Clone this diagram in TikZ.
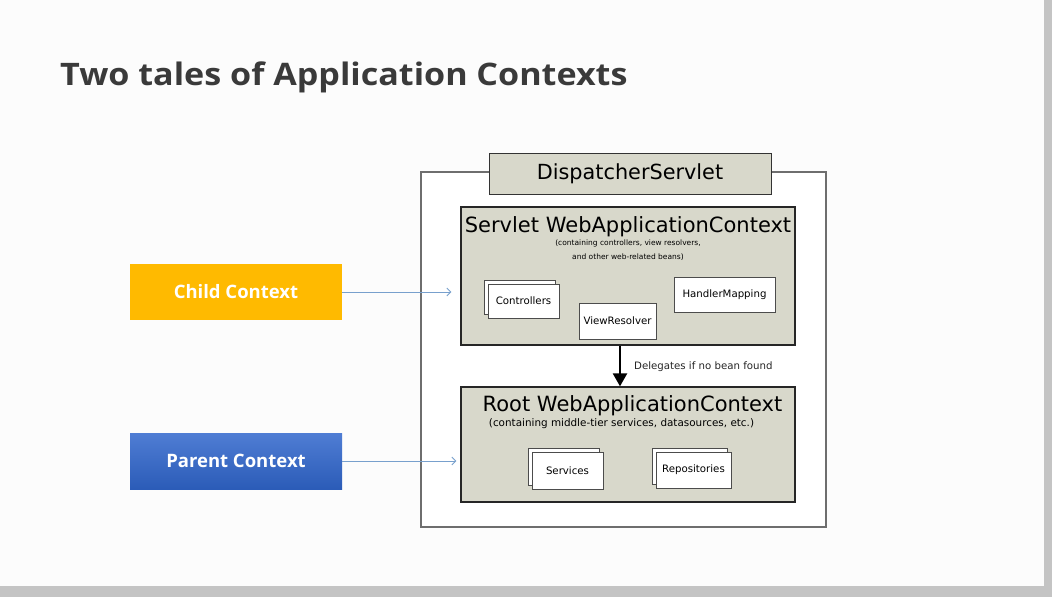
\documentclass[tikz,border=0pt]{standalone}
\usepackage{fontspec}
\usetikzlibrary{arrows.meta,shadows}
\newfontfamily\djv{DejaVu Sans}
\newfontfamily\opsans{Open Sans}
\newfontfamily\opsanswide[FakeStretch=1.1]{Open Sans}
\definecolor{beige}{RGB}{216,216,203}
\definecolor{framegray}{RGB}{110,110,110}
\definecolor{titlegray}{RGB}{58,58,58}
\definecolor{childorange}{RGB}{255,186,0}
\definecolor{parentblue}{RGB}{48,102,204}
\definecolor{linkblue}{RGB}{120,160,205}
\definecolor{bandgray}{RGB}{196,196,196}
\tikzset{
  ctxbox/.style={draw=black!85, line width=1.3pt, fill=beige, inner sep=0pt},
  headbox/.style={draw=black!80, line width=1pt, fill=beige, inner sep=0pt, font=\djv\fontsize{20.8}{22}\selectfont},
  beanbox/.style={draw=black!70, line width=0.8pt, fill=white, inner sep=0pt, font=\djv\fontsize{10.2}{12}\selectfont},
  stackbox/.style={beanbox, copy shadow={shadow xshift=-4pt, shadow yshift=4pt, draw=black!70, fill=white, line width=0.8pt}},
  labelbox/.style={inner sep=0pt, text=white, font=\opsans\bfseries\fontsize{18.5}{20}\selectfont, minimum width=212pt, minimum height=56pt},
  link/.style={draw=linkblue, line width=0.8pt, -{Straight Barb[length=4pt,width=8pt]}},
  bigtitle/.style={font=\djv\fontsize{21}{24}\selectfont, inner sep=0pt},
  smalltxt/.style={font=\djv\fontsize{10.2}{13}\selectfont, inner sep=0pt, align=center}
}
\begin{document}
\begin{tikzpicture}[x=1pt,y=-1pt]
\useasboundingbox (0,0) rectangle (1052,597);
\fill[white!99!black] (0,0) rectangle (1052,597);
\fill[bandgray] (0,586) rectangle (1052,597);
\fill[bandgray] (1044,0) rectangle (1052,597);

\node[anchor=base west, inner sep=0pt, text=titlegray, font=\opsanswide\bfseries\fontsize{31}{34}\selectfont] (title) at (60,85) {Two tales of Application Contexts};

% outer frame
\node[draw=framegray, line width=1.2pt, fill=white, minimum width=405pt, minimum height=355pt, inner sep=0pt] (outer) at (623.5,349.5) {};
\node[headbox, minimum width=282pt, minimum height=41pt] (disp) at (630,173.5) {DispatcherServlet};

% servlet context
\node[ctxbox, minimum width=334pt, minimum height=138pt] (servlet) at (628,276) {};
\node[bigtitle, anchor=base] (servlettitle) at (628,232) {Servlet WebApplicationContext};
\node[smalltxt, anchor=north, font=\djv\fontsize{7.5}{13.5}\selectfont] (servletsub) at (628,240) {(containing controllers, view resolvers,\\and other web-related beans)};
\node[stackbox, minimum width=71pt, minimum height=34pt] (controllers) at (523.5,301) {Controllers};
\node[beanbox, minimum width=77pt, minimum height=36pt] (viewres) at (617.5,321) {ViewResolver};
\node[beanbox, minimum width=101pt, minimum height=35pt] (handler) at (724.5,294.5) {HandlerMapping};

% root context
\node[ctxbox, minimum width=334pt, minimum height=115pt] (root) at (628,444.5) {};
\node[bigtitle, anchor=base] (roottitle) at (632.5,411) {Root WebApplicationContext};
\node[smalltxt, anchor=base, font=\djv\fontsize{10.4}{13}\selectfont] (rootsub) at (621.5,426) {(containing middle-tier services, datasources, etc.)};
\node[stackbox, minimum width=71pt, minimum height=37pt] (services) at (567.5,470.5) {Services};
\node[stackbox, minimum width=75pt, minimum height=36pt] (repos) at (693.5,470) {Repositories};

% delegation arrow
\draw[line width=2.4pt, -{Triangle[length=13pt,width=14pt]}] ([xshift=-8pt]servlet.south) -- ([xshift=-8pt]root.north)
  node[midway, right=13pt, yshift=-1pt, smalltxt, text=black!85] (deleg) {Delegates if no bean found};

% left labels
\node[labelbox, fill=childorange] (child) at (236,292) {Child Context};
\node[labelbox, top color=parentblue!85!white, bottom color=parentblue!90!black] (parent) at (236,461) {Parent Context};

\draw[link, shorten >=9pt] (child.east) -- (child.east -| servlet.west);
\draw[link, shorten >=4pt] (parent.east) -- (parent.east -| root.west);
\end{tikzpicture}
\end{document}
